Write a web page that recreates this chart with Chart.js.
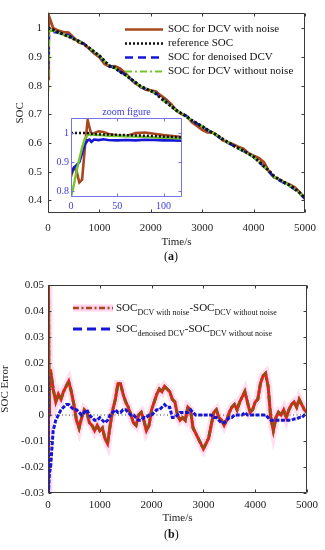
<!DOCTYPE html>
<html><head><meta charset="utf-8">
<script src="https://cdn.jsdelivr.net/npm/chart.js@4.4.1/dist/chart.umd.min.js"></script>
<style>
html,body{margin:0;padding:0;background:#fff;width:325px;height:550px;overflow:hidden;}
canvas{position:absolute;}
.lab{position:absolute;font:12px 'Liberation Serif',serif;color:#111;}
</style></head><body>
<canvas id="top" width="325" height="265" style="left:0;top:0"></canvas>
<canvas id="inset" width="150" height="112" style="left:40px;top:100px"></canvas>
<canvas id="bot" width="325" height="280" style="left:0;top:270px"></canvas>
<div class="lab" style="left:164px;top:249px">(<b>a</b>)</div>
<div class="lab" style="left:164px;top:527px">(<b>b</b>)</div>
<script>
// ---------- data: panel (a) ----------
const timeTop = [0,10,18,100,200,300,400,500,600,700,800,900,1000,1100,1200,1300,1400,1500,1600,1700,1800,1900,2000,2100,2200,2300,2400,2500,2600,2700,2800,2900,3000,3100,3200,3300,3400,3500,3600,3700,3800,3900,4000,4100,4200,4300,4400,4500,4600,4700,4800,4900,5000];
const socNoisy = [0.85,0.82,1.045,
 1.001,0.992,0.987,0.985,0.967,0.951,0.946,0.929,0.913,0.900,
 0.876,0.866,0.868,0.860,0.844,0.825,0.808,0.797,0.786,0.784,
 0.780,0.765,0.752,0.735,0.713,0.701,0.694,0.673,0.660,0.646,
 0.637,0.637,0.626,0.610,0.603,0.596,0.587,0.580,0.564,0.556,
 0.548,0.533,0.500,0.481,0.473,0.462,0.455,0.445,0.428,0.406];
const socReference = [1.0,1.0,1.0,
 0.995,0.987,0.979,0.972,0.963,0.955,0.945,0.932,0.918,0.905,
 0.886,0.869,0.862,0.849,0.838,0.825,0.812,0.798,0.790,0.782,
 0.772,0.756,0.742,0.728,0.714,0.703,0.692,0.679,0.668,0.658,
 0.646,0.636,0.626,0.614,0.603,0.592,0.582,0.573,0.563,0.552,
 0.536,0.519,0.503,0.484,0.473,0.463,0.453,0.441,0.426,0.407];
const socDenoised = [0.86,0.90,0.975,
 0.988,0.985,0.981,0.976,0.964,0.956,0.946,0.932,0.916,0.904,
 0.882,0.868,0.864,0.849,0.840,0.825,0.811,0.795,0.789,0.782,
 0.774,0.758,0.745,0.727,0.713,0.704,0.693,0.679,0.668,0.658,
 0.646,0.635,0.624,0.611,0.601,0.592,0.582,0.573,0.562,0.552,
 0.535,0.518,0.500,0.480,0.470,0.460,0.450,0.4385,0.424,0.405];
const socNoNoise = [0.78,0.92,0.99,
 0.993,0.985,0.978,0.972,0.962,0.955,0.945,0.932,0.918,0.905,
 0.885,0.868,0.862,0.848,0.838,0.825,0.812,0.797,0.790,0.782,
 0.772,0.755,0.742,0.728,0.713,0.703,0.692,0.678,0.668,0.658,
 0.646,0.636,0.626,0.614,0.602,0.592,0.582,0.572,0.562,0.552,
 0.535,0.518,0.502,0.482,0.472,0.462,0.452,0.440,0.425,0.405];
const topXTicks = [0,1000,2000,3000,4000,5000];
const topYTicks = [0.4,0.5,0.6,0.7,0.8,0.9,1];
const topLegendLabels = ['SOC for DCV with noise','reference SOC','SOC for denoised DCV','SOC for DCV without noise'];

// ---------- data: zoom inset ----------
const timeZoom = [0,3,6,9,12,15,18,20,22,25,30,35,40,50,60,70,80,90,100,110,120];
const zoomNoisy = [0.85,0.88,0.87,0.83,0.84,0.95,1.045,1.02,0.995,1.0,1.006,1.004,0.998,0.992,0.99,1.0,1.002,0.998,0.993,0.99,0.986];
const zoomReference = [1.0,1.0,1.0,1.0,1.0,1.0,1.0,0.999,0.998,0.997,0.996,0.995,0.995,0.994,0.993,0.992,0.991,0.99,0.988,0.987,0.985];
const zoomDenoised = [0.86,0.88,0.89,0.90,0.93,0.962,0.975,0.978,0.97,0.978,0.976,0.979,0.976,0.975,0.976,0.975,0.977,0.976,0.975,0.975,0.974];
const zoomNoNoise = [0.78,0.82,0.87,0.91,0.95,0.98,0.993,0.996,0.995,0.994,0.993,0.992,0.991,0.99,0.989,0.988,0.987,0.985,0.984,0.983,0.981];
const zoomXTicks = [0,50,100];
const zoomYTicks = [0.8,0.9,1];
const zoomTitle = 'zoom figure';

// ---------- data: panel (b) ----------
const timeErr = [0,10,20,30,50,100,150,200,250,300,350,400,450,500,550,600,650,700,750,800,850,900,950,1000,
 1050,1100,1150,1200,1250,1300,1350,1400,1450,1500,1550,1600,1650,1700,1750,1800,1850,1900,1950,2000,
 2050,2100,2150,2200,2250,2300,2350,2400,2450,2500,2550,2600,2650,2700,2750,2800,2850,2900,2950,3000,
 3050,3100,3150,3200,3250,3300,3350,3400,3450,3500,3550,3600,3650,3700,3750,3800,3850,3900,3950,4000,
 4050,4100,4150,4200,4250,4300,4350,4400,4450,4500,4550,4600,4650,4700,4750,4800,4850,4900,4950,5000];
const errNoisy = [-0.03,0.05,0.0,0.017,
 0.017,0.010,0.005,0.008,0.006,0.009,0.011,0.013,0.009,0.004,
 -0.002,-0.005,-0.001,0.002,0.001,-0.003,-0.004,-0.006,-0.004,-0.006,
 -0.005,-0.009,-0.011,-0.004,0.002,0.006,0.012,0.012,0.008,0.005,
 0.003,0.0,-0.003,-0.004,0.0,0.001,-0.002,-0.006,-0.004,0.002,
 0.005,0.008,0.010,0.009,0.011,0.010,0.009,0.006,0.005,0.0,
 -0.002,-0.001,-0.002,0.003,0.002,-0.005,-0.007,-0.009,-0.011,-0.013,
 -0.011,-0.009,-0.004,0.001,0.002,-0.001,-0.002,-0.004,-0.002,0.001,
 0.003,0.004,0.002,0.005,0.007,0.009,0.005,0.001,0.002,0.005,
 0.006,0.012,0.015,0.016,0.011,-0.001,-0.006,-0.001,0.001,0.0,
 0.002,-0.001,0.002,0.004,0.005,0.003,0.006,0.004,0.002,0.001];
const errDenoised = [0.015,-0.03,-0.025,-0.022,
 -0.02,-0.006,-0.002,0.0,0.002,0.003,0.004,0.004,0.003,0.002,
 0.002,0.001,0.0,0.001,0.002,0.0,-0.001,-0.002,-0.002,-0.001,
 -0.002,-0.003,-0.002,0.0,0.001,0.002,0.001,0.001,0.002,0.002,
 0.001,0.0,0.0,-0.001,-0.002,-0.002,-0.001,-0.001,0.0,0.0,
 0.001,0.002,0.002,0.003,0.004,0.003,0.003,-0.001,-0.001,0.0,
 0.001,0.001,0.001,0.001,0.002,0.001,0.0,0.0,0.0,0.0,
 0.0,0.0,0.0,-0.001,-0.001,-0.002,-0.003,-0.003,-0.002,-0.001,
 -0.001,0.0,0.0,0.0,0.0,0.001,0.0,0.0,0.0,0.0,
 0.0,0.0,0.0,0.0,-0.001,-0.002,-0.002,-0.002,-0.002,-0.002,
 -0.002,-0.002,-0.002,-0.002,-0.0015,-0.0015,-0.001,-0.001,0.0,0.0];
const zeroTimes = [0,5000];
const zeroValues = [0,0];
const errXTicks = [0,1000,2000,3000,4000,5000];
const errYTicks = [-0.03,-0.02,-0.01,0,0.01,0.02,0.03,0.04,0.05];
const errLegendParts = [
  [{t:'SOC'},{t:'DCV with noise',sub:true},{t:'-SOC'},{t:'DCV without noise',sub:true}],
  [{t:'SOC'},{t:'denoised DCV',sub:true},{t:'-SOC'},{t:'DCV without noise',sub:true}]
];

// ---------- styles ----------
const C_BROWN = '#a9481f', C_BLUE = '#1616d8', C_GREEN = '#74c62c', C_BLACK = '#111111', C_RED = '#e8201c';
const FONT = "'Liberation Serif','Times New Roman',serif";
Chart.defaults.font.family = FONT;
Chart.defaults.font.size = 11;
Chart.defaults.color = '#222';

const pts = (xs, ys) => xs.map((x,i)=>({x:x, y:ys[i]}));
const noGrid = {display:false, drawTicks:false};

const boxPlugin = {
  id:'mbox',
  beforeDatasetsDraw(chart, args, o){
    if(o.fill){const a=chart.chartArea;chart.ctx.save();chart.ctx.fillStyle=o.fill;chart.ctx.fillRect(a.left,a.top,a.right-a.left,a.bottom-a.top);chart.ctx.restore();}
  },
  afterDatasetsDraw(chart, args, o){
    const {ctx, chartArea:a, scales} = chart;
    const L=Math.round(a.left)+0.5, R=Math.round(a.right)-0.5, T=Math.round(a.top)+0.5, B=Math.round(a.bottom)-0.5;
    const len = o.len||3;
    ctx.save();
    ctx.strokeStyle = o.color||'#333'; ctx.lineWidth = 1; ctx.setLineDash([]);
    ctx.beginPath();
    ctx.rect(L,T,R-L,B-T);
    scales.x.ticks.forEach(t=>{const p=Math.round(scales.x.getPixelForValue(t.value))+0.5;
      ctx.moveTo(p,B);ctx.lineTo(p,B-len);ctx.moveTo(p,T);ctx.lineTo(p,T+len);});
    scales.y.ticks.forEach(t=>{const p=Math.round(scales.y.getPixelForValue(t.value))+0.5;
      ctx.moveTo(L,p);ctx.lineTo(L+len,p);ctx.moveTo(R,p);ctx.lineTo(R-len,p);});
    ctx.stroke();
    if(o.title){ctx.fillStyle=o.titleColor;ctx.font='10px '+FONT;ctx.textAlign='center';ctx.textBaseline='middle';
      ctx.fillText(o.title,(a.left+a.right)/2,a.top-6);}
    ctx.restore();
  }
};

const legendPlugin = {
  id:'mlegend',
  afterDraw(chart, args, o){
    if(!o.items) return;
    const ctx = chart.ctx;
    ctx.save();
    o.items.forEach(it=>{
      it.strokes.forEach(s=>{
        ctx.strokeStyle=s.color; ctx.lineWidth=s.width; ctx.setLineDash(s.dash||[]); ctx.lineCap='butt';
        ctx.beginPath(); ctx.moveTo(o.x0,it.y); ctx.lineTo(o.x1,it.y); ctx.stroke();
      });
      let x = o.tx;
      ctx.fillStyle='#111'; ctx.textBaseline='middle'; ctx.textAlign='left';
      it.parts.forEach(p=>{
        ctx.font = p.sub ? o.subFont : o.font;
        ctx.fillText(p.t, x, it.y + (p.sub ? 5 : 0));
        x += ctx.measureText(p.t).width;
      });
    });
    ctx.restore();
  }
};
Chart.register(boxPlugin, legendPlugin);

function baseOpts(){
  return {responsive:false, animation:false, devicePixelRatio:1,
    elements:{point:{radius:0},line:{tension:0}},
    plugins:{legend:{display:false},tooltip:{enabled:false}}};
}

// ---------- panel (a) ----------
const optA = baseOpts();
optA.layout = {padding:{left:0,right:18,top:7,bottom:12}};
optA.scales = {
  x:{type:'linear',min:0,max:5000,grid:noGrid,border:{display:false},
     afterBuildTicks:s=>{s.ticks=topXTicks.map(v=>({value:v}));},
     afterFit:s=>{s.height=40;},
     ticks:{padding:9,color:'#222',callback:v=>String(v)},
     title:{display:true,text:'Time/s',color:'#222',padding:{top:0,bottom:4}}},
  y:{type:'linear',min:0.356,max:1.055,grid:noGrid,border:{display:false},
     afterBuildTicks:s=>{s.ticks=topYTicks.map(v=>({value:v}));},
     afterFit:s=>{s.width=48;},
     ticks:{padding:6,color:'#222',callback:v=>v===1?'1':v.toFixed(1)},
     title:{display:true,text:'SOC',color:'#222',padding:{top:14}}}
};
optA.plugins.mbox = {color:'#3a3a3a'};
optA.plugins.mlegend = {x0:125,x1:163,tx:168,font:'11px '+FONT,subFont:'8px '+FONT,items:[
  {y:29.5,parts:[{t:topLegendLabels[0]}],strokes:[{color:C_BROWN,width:2.5}]},
  {y:43.5,parts:[{t:topLegendLabels[1]}],strokes:[{color:C_BLACK,width:2.5,dash:[2,2]}]},
  {y:57.5,parts:[{t:topLegendLabels[2]}],strokes:[{color:C_BLUE,width:2.5,dash:[8,5]}]},
  {y:71.5,parts:[{t:topLegendLabels[3]}],strokes:[{color:C_GREEN,width:2,dash:[7,3,2,3]}]}
]};
new Chart(document.getElementById('top'), {type:'line',
  data:{datasets:[
    {data:pts(timeTop,socReference),borderColor:C_BLACK,borderWidth:3,borderDash:[2.5,2]},
    {data:pts(timeTop,socNoNoise),borderColor:C_GREEN,borderWidth:2.6,borderDash:[7,3,2,3]},
    {data:pts(timeTop,socDenoised),borderColor:C_BLUE,borderWidth:2.6,borderDash:[8,5]},
    {data:pts(timeTop,socNoisy),borderColor:C_BROWN,borderWidth:2.8}
  ]}, options:optA});

// ---------- zoom inset ----------
const C_INSET = '#7474e6', C_INSET_TXT = '#3c3ce0';
const optZ = baseOpts();
optZ.layout = {padding:{left:0,right:8,top:18,bottom:0}};
optZ.scales = {
  x:{type:'linear',min:0,max:120,grid:noGrid,border:{display:false},
     afterBuildTicks:s=>{s.ticks=zoomXTicks.map(v=>({value:v}));},
     afterFit:s=>{s.height=15;},
     ticks:{padding:3,color:C_INSET_TXT,font:{size:10},callback:v=>String(v)}},
  y:{type:'linear',min:0.78,max:1.052,grid:noGrid,border:{display:false},
     afterBuildTicks:s=>{s.ticks=zoomYTicks.map(v=>({value:v}));},
     afterFit:s=>{s.width=31;},
     ticks:{padding:2,color:C_INSET_TXT,font:{size:10},callback:v=>v===1?'1':v.toFixed(1)}}
};
optZ.plugins.mbox = {color:C_INSET,fill:'#ffffff',len:3,title:zoomTitle,titleColor:C_INSET_TXT};
new Chart(document.getElementById('inset'), {type:'line',
  data:{datasets:[
    {data:pts(timeZoom,zoomReference),borderColor:C_BLACK,borderWidth:2.5,borderDash:[2,2]},
    {data:pts(timeZoom,zoomNoNoise),borderColor:C_GREEN,borderWidth:2.4},
    {data:pts(timeZoom,zoomDenoised),borderColor:C_BLUE,borderWidth:2.6},
    {data:pts(timeZoom,zoomNoisy),borderColor:C_BROWN,borderWidth:2.6}
  ]}, options:optZ});

// ---------- panel (b) ----------
const optB = baseOpts();
optB.layout = {padding:{left:0,right:18,top:15,bottom:17}};
optB.scales = {
  x:{type:'linear',min:0,max:5000,grid:noGrid,border:{display:false},
     afterBuildTicks:s=>{s.ticks=errXTicks.map(v=>({value:v}));},
     afterFit:s=>{s.height=40;},
     ticks:{padding:6,color:'#222',callback:v=>String(v)},
     title:{display:true,text:'Time/s',color:'#222',padding:{top:0,bottom:8}}},
  y:{type:'linear',min:-0.03,max:0.05,grid:noGrid,border:{display:false},
     afterBuildTicks:s=>{s.ticks=errYTicks.map(v=>({value:v}));},
     afterFit:s=>{s.width=48;},
     ticks:{padding:4,color:'#222',callback:v=>v===0?'0':v.toFixed(2)},
     title:{display:true,text:'SOC Error',color:'#222',font:{lineHeight:1},padding:{top:0}}}
};
optB.plugins.mbox = {color:'#3a3a3a'};
optB.plugins.mlegend = {x0:73,x1:113,tx:116,font:'11px '+FONT,subFont:'8px '+FONT,items:[
  {y:38,parts:errLegendParts[0],strokes:[{color:'rgba(255,170,220,0.5)',width:7},{color:C_BROWN,width:2.5,dash:[6,2.5,2,2.5]}]},
  {y:59,parts:errLegendParts[1],strokes:[{color:C_BLUE,width:3,dash:[9,5]}]}
]};
new Chart(document.getElementById('bot'), {type:'line',
  data:{datasets:[
    {data:pts(timeErr,errDenoised),borderColor:C_BLUE,borderWidth:3,borderDash:[4,1.5]},
    {data:pts(timeErr,errNoisy),borderColor:'#9a4a12',borderWidth:3,borderDash:[6,2.5,2,2.5]},
    {data:pts(timeErr,errNoisy),borderColor:C_RED,borderWidth:3},
    {data:pts(timeErr,errNoisy),borderColor:'rgba(255,160,215,0.35)',borderWidth:8},
    {data:pts(zeroTimes,zeroValues),borderColor:'#333',borderWidth:1,borderDash:[1,2.5]}
  ]}, options:optB});
</script>
</body></html>
